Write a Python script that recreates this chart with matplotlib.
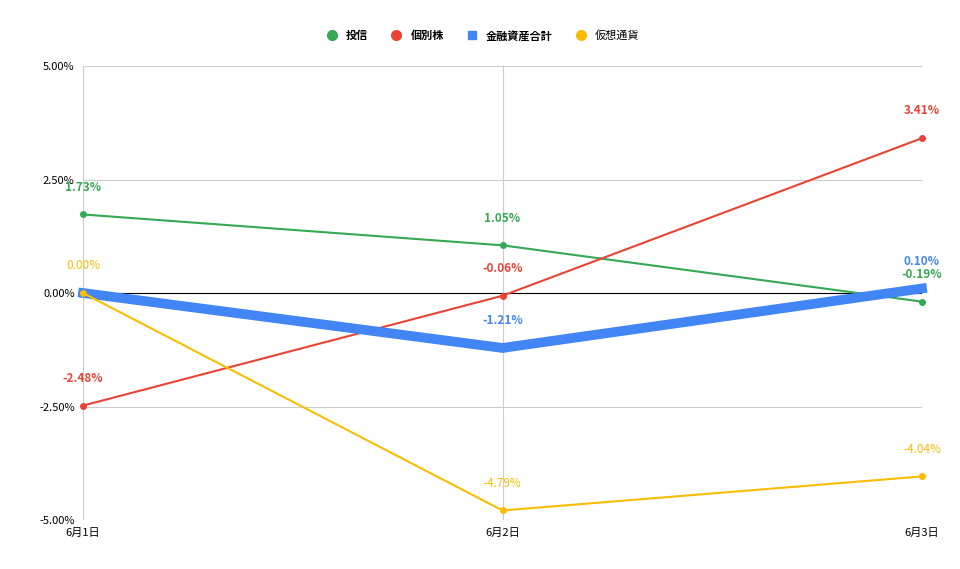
import matplotlib.pyplot as plt
from matplotlib.lines import Line2D

plt.rcParams['font.family'] = ['Noto Sans CJK JP', 'DejaVu Sans']

days = ['6月1日', '6月2日', '6月3日']
toushin = [1.73, 1.05, -0.19]
kobetsu = [-2.48, -0.06, 3.41]
goukei = [0.00, -1.21, 0.10]
kasou = [0.00, -4.79, -4.04]

fig = plt.figure(figsize=(9.6, 5.69), dpi=100)
ax = fig.add_axes([0.0865, 0.0861, 0.8739, 0.7979])
x = list(range(len(days)))

series = [
    ('投信', toushin, '#34a853', 'o', 1.5, 'bold'),
    ('個別株', kobetsu, '#ea4335', 'o', 1.5, 'bold'),
    ('金融資産合計', goukei, '#4285f4', 's', 7, 'bold'),
    ('仮想通貨', kasou, '#fbbc04', 'o', 1.5, 'normal'),
]
ax.axhline(0, color='black', lw=0.8, zorder=2)
handles = []
for name, vals, c, m, lw, fw in series:
    ax.plot(x, vals, color=c, lw=lw, marker=m, ms=4 if m == 'o' else 5, zorder=3, clip_on=False)
    for i, (xi, v) in enumerate(zip(x, vals)):
        if name == '金融資産合計' and i == 0:
            continue  # hidden behind the 仮想通貨 label in the original
        ax.annotate(f'{v:.2f}%', (xi, v), xytext=(0, 15), textcoords='offset points',
                    ha='center', va='bottom', color=c, fontsize=8.5, fontweight=fw)
    handles.append(Line2D([], [], color=c, marker='o' if m == 'o' else 's', ls='',
                          ms=7 if m == 'o' else 6))

ax.set_xlim(0, 2)
ax.set_ylim(-5, 5)
ax.set_xticks(x)
ax.set_xticklabels(days, fontsize=8)
ax.set_yticks([-5, -2.5, 0, 2.5, 5])
ax.set_yticklabels(['-5.00%', '-2.50%', '0.00%', '2.50%', '5.00%'], fontsize=8)
ax.grid(True, color='#cccccc', lw=0.8, zorder=0)
ax.set_axisbelow(True)
ax.tick_params(length=0, pad=6)
for s in ax.spines.values():
    s.set_visible(False)

leg = fig.legend(handles, [s[0] for s in series], loc='center', bbox_to_anchor=(0.5, 0.937),
                 ncol=4, frameon=False, fontsize=8, handletextpad=0.3, columnspacing=1.5)
for t, s in zip(leg.get_texts(), series):
    t.set_fontweight(s[5])

fig.savefig('out.png', dpi=100)
